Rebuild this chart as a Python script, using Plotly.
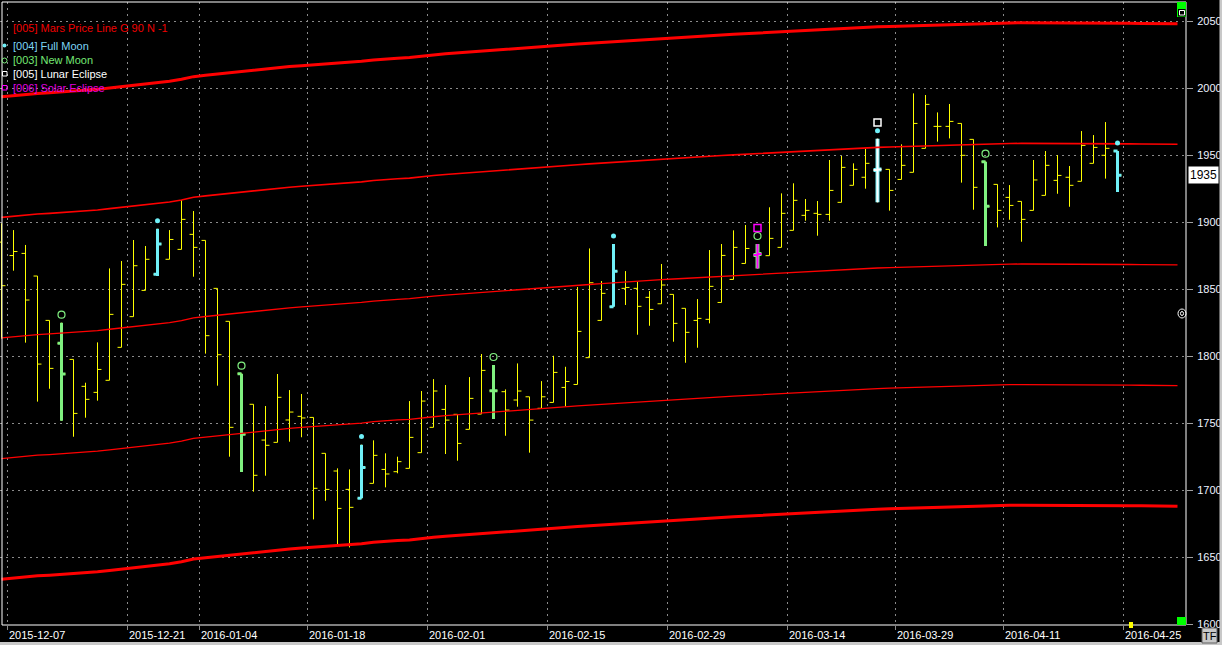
import plotly.graph_objects as go

# ---------------- data ----------------
bar_index = list(range(94))
opens = [1885, 1875, 1876.6, 1859.7, 1826.6, 1809.5, 1797.5, 1777.4, 1772.9, 1781.9,
         1806.5, 1829.4, 1849, 1861, 1872.2, 1879.6, 1890.8, 1886.3, 1850.5, 1825.9,
         1786.8, 1764, 1737.3, 1735.6, 1752.3, 1755, 1754.2, 1727.4, 1714.2, 1700.5,
         1693.8, 1705, 1715.4, 1713.7, 1716.2, 1727.9, 1746.8, 1760.2, 1756.5, 1745.3,
         1756.7, 1774.1, 1773.4, 1767.2, 1769.6, 1761, 1765.4, 1776.6, 1778.8, 1798.8,
         1826.6, 1836.8, 1850.5, 1850.5, 1843.8, 1839, 1846, 1835.6, 1826.6, 1827.4,
         1840, 1857.2, 1869.1, 1875.4, 1874.9, 1881.1, 1893.8, 1905, 1906.5, 1905.7,
         1914.7, 1927.4, 1933.4, 1938.8, 1939.3, 1931.8, 1937.1, 1955, 1971.4, 1971.4,
         1973.6, 1961.7, 1945, 1928.1, 1918.4, 1915.4, 1908.7, 1919.9, 1931.1, 1933.4,
         1930.4, 1943.8, 1949.8, 1953]
highs = [1899, 1894, 1882.9, 1859.7, 1826.6, 1824.9, 1797.5, 1780.1, 1810.2, 1865.4,
         1870.9, 1886.6, 1882.1, 1895, 1894, 1916.4, 1908.2, 1886.3, 1850.5, 1825.9,
         1786.8, 1764, 1762.7, 1786.6, 1774.6, 1771.7, 1754.2, 1727.4, 1716.2, 1715.4,
         1733.9, 1737.1, 1727.4, 1724.9, 1766.4, 1773.9, 1782.8, 1778.4, 1756.5, 1784.3,
         1801.5, 1793.3, 1775.1, 1794.5, 1769.6, 1781.3, 1800.2, 1792, 1851.5, 1880.3,
         1856, 1883.6, 1863.4, 1855.5, 1848.5, 1868.7, 1846, 1835.6, 1842.5, 1879.1,
         1883.6, 1893.8, 1897.8, 1883.6, 1911, 1921.4, 1928.9, 1917.2, 1915.7, 1946.3,
         1949.3, 1943.8, 1954.5, 1962.2, 1939.3, 1958, 1996, 1994.8, 1981.8, 1988.1,
         1973.6, 1961.7, 1945, 1928.1, 1927.6, 1915.4, 1946.3, 1953, 1950, 1941.8,
         1967.9, 1964.9, 1974.6, 1953]
lows = [1813, 1863.7, 1810, 1766, 1775.6, 1751.8, 1739.8, 1754, 1766.7, 1781.9,
        1806.5, 1829.4, 1849, 1859.7, 1872.2, 1879.6, 1859.2, 1801.8, 1777.9, 1724.9,
        1713.5, 1698.8, 1710.7, 1735.6, 1736.1, 1739.4, 1678.1, 1692, 1659, 1657.2,
        1693.8, 1705, 1702, 1712.5, 1716.2, 1727.9, 1746.8, 1726.9, 1721.9, 1745.3,
        1756.7, 1753, 1740.5, 1762.2, 1727.9, 1761, 1765.4, 1762.2, 1778.8, 1798.8,
        1826.6, 1836.8, 1838.1, 1815.9, 1822.6, 1839, 1810.7, 1795, 1806.2, 1824.4,
        1840, 1857.2, 1869.1, 1865.4, 1874.9, 1881.1, 1893.8, 1901, 1889.8, 1901,
        1914.7, 1927.4, 1924.9, 1914.7, 1908.5, 1931.8, 1937.1, 1955, 1960, 1962.4,
        1929.4, 1909.2, 1882.1, 1896, 1901.7, 1885.3, 1908.7, 1919.9, 1921.1, 1911.4,
        1930.4, 1943.8, 1932.4, 1922.4]
closes = [1852.5, 1878, 1841.8, 1794, 1790.8, 1786.6, 1757.2, 1767.7, 1790, 1831.1,
          1853.5, 1867.4, 1872.2, 1883.6, 1887, 1902, 1881.1, 1815.2, 1801, 1746.8,
          1741.6, 1711, 1733.4, 1769.2, 1758.2, 1753.8, 1701.3, 1700.5, 1686.3, 1687.1,
          1716.9, 1725.9, 1712, 1721.2, 1739.3, 1766.4, 1773.9, 1752.2, 1734.8, 1768.4,
          1789.3, 1774.1, 1759.7, 1773.9, 1752.2, 1769.6, 1787.8, 1781, 1818.4, 1854.7,
          1846.8, 1863.2, 1851.2, 1837.1, 1834.8, 1853, 1824.4, 1817.7, 1828.1, 1852,
          1875.1, 1881.1, 1880.3, 1876.1, 1887.8, 1906.5, 1916.2, 1908.7, 1905.7, 1923.6,
          1940.8, 1939.3, 1943.8, 1939.3, 1923.6, 1942.3, 1973.6, 1987.8, 1971.4, 1975.1,
          1949.8, 1925.9, 1911.7, 1908.7, 1912.4, 1902, 1931.4, 1942.3, 1934.8, 1927.4,
          1957.2, 1955.7, 1955, 1935]

# Mars price line (top line), one value per bar slot, incl. empty slots to the right
mars_line = [1993.5, 1994.5, 1995.5, 1996, 1996.5, 1997, 1998, 1998.5, 1999, 2000,
             2001, 2001.5, 2002.5, 2003.5, 2005, 2006.5, 2008.5, 2009.5, 2010.5, 2011.5,
             2012.5, 2013.5, 2014.3, 2015, 2016, 2016.7, 2017.3, 2018, 2018.8, 2019.5,
             2020, 2021, 2021.8, 2022.3, 2022.8, 2024, 2024.7, 2025.5, 2026.2, 2027,
             2027.7, 2028.3, 2029, 2029.6, 2030.2, 2030.8, 2031.5, 2032.2, 2032.8, 2033.4,
             2034, 2034.7, 2035.2, 2035.8, 2036.4, 2037, 2037.5, 2038, 2038.5, 2039,
             2039.6, 2040.1, 2040.6, 2041.2, 2041.7, 2042.2, 2042.6, 2043, 2043.4, 2044,
             2044.5, 2045, 2045.3, 2045.7, 2046, 2046.3, 2046.7, 2047, 2047.2, 2047.5,
             2047.8, 2048, 2048.2, 2048.4, 2048.6, 2048.7, 2048.7, 2048.8, 2048.8, 2048.8,
             2048.7, 2048.6, 2048.5, 2048.4, 2048.3, 2048.2, 2048, 2048, 2048]
mars_gap = 90
mars_levels = [0, 1, 2, 3, 4]

full_moon_bars = [13, 30, 51, 93]
new_moon_bars = [5, 20, 41, 82]
lunar_eclipse_bars = [73]
solar_eclipse_bars = [63]

date_labels = ["2015-12-07", "2015-12-21", "2016-01-04", "2016-01-18", "2016-02-01",
               "2016-02-15", "2016-02-29", "2016-03-14", "2016-03-29", "2016-04-11",
               "2016-04-25"]
date_label_bars = [1, 11, 17, 26, 36, 46, 56, 66, 75, 84, 94]
y_ticks = [1600, 1650, 1700, 1750, 1800, 1850, 1900, 1950, 2000, 2050]
last_price = 1935

legend_items = [
    ("[005] Mars Price Line G 90 N -1", "#F00000"),
    ("[004] Full Moon", "#7CD4F4"),
    ("[003] New Moon", "#74E874"),
    ("[005] Lunar Eclipse", "#FFFFFF"),
    ("[006] Solar Eclipse", "#E000E0"),
]

# ---------------- styles / layout helpers ----------------
W, H = 1222, 645
ML, MR, MT, MB = 0, 36, 2, 20
PW, PH = W - ML - MR, H - MT - MB
YELLOW = "#FFFF00"
CYAN = "#70F0F8"
GREEN = "#80F080"
MAGENTA = "#FF00FF"
GRID = "#8A8A8A"
FONT = "Liberation Sans, Arial, sans-serif"
X0 = -1.5 / 12          # left edge of plot in bar units (12 px per bar)
X1 = X0 + PW / 12


def px(xp):
    return (xp - ML) / PW


def py(yp):
    return (H - MB - yp) / PH


fig = go.Figure()

# Mars price lines
mars_x = list(range(len(mars_line)))
mars_widths = [3, 1.6, 1.3, 1.3, 3]
for k in mars_levels:
    fig.add_trace(go.Scatter(
        x=mars_x, y=[m - k * mars_gap for m in mars_line], mode="lines",
        line=dict(color="#FF0000", width=mars_widths[k]),
        hoverinfo="skip", showlegend=False))


def subset(idx):
    return dict(x=idx,
                open=[opens[i] for i in idx], high=[highs[i] for i in idx],
                low=[lows[i] for i in idx], close=[closes[i] for i in idx])


def ohlc(idx, color, width):
    d = subset(idx)
    return go.Ohlc(**d, increasing=dict(line=dict(color=color, width=width)),
                   decreasing=dict(line=dict(color=color, width=width)),
                   tickwidth=0.33, hoverinfo="skip", showlegend=False)


fig.add_trace(ohlc(bar_index, YELLOW, 1))
fig.add_trace(ohlc(full_moon_bars, CYAN, 3))
fig.add_trace(ohlc(new_moon_bars, GREEN, 3))
fig.add_trace(ohlc(lunar_eclipse_bars, CYAN, 4))
fig.add_trace(ohlc(lunar_eclipse_bars, "#FFFFFF", 2))
fig.add_trace(ohlc(solar_eclipse_bars, GREEN, 4))
fig.add_trace(ohlc(solar_eclipse_bars, MAGENTA, 2))

# moon markers above the bars
off1, off2 = 6, 12
fig.add_trace(go.Scatter(x=full_moon_bars + lunar_eclipse_bars,
                         y=[highs[i] + off1 for i in full_moon_bars + lunar_eclipse_bars],
                         mode="markers", marker=dict(symbol="circle", size=5, color=CYAN),
                         hoverinfo="skip", showlegend=False))
fig.add_trace(go.Scatter(x=new_moon_bars + solar_eclipse_bars,
                         y=[highs[i] + off1 for i in new_moon_bars + solar_eclipse_bars],
                         mode="markers",
                         marker=dict(symbol="circle-open", size=7, color=GREEN, line=dict(width=1.2)),
                         hoverinfo="skip", showlegend=False))
fig.add_trace(go.Scatter(x=lunar_eclipse_bars, y=[highs[i] + off2 for i in lunar_eclipse_bars],
                         mode="markers",
                         marker=dict(symbol="square-open", size=7, color="#FFFFFF", line=dict(width=1.5)),
                         hoverinfo="skip", showlegend=False))
fig.add_trace(go.Scatter(x=solar_eclipse_bars, y=[highs[i] + off2 for i in solar_eclipse_bars],
                         mode="markers",
                         marker=dict(symbol="square-open", size=7, color=MAGENTA, line=dict(width=1.5)),
                         hoverinfo="skip", showlegend=False))

annotations = []
# x labels, left aligned at their grid line
for lab, b in zip(date_labels, date_label_bars):
    annotations.append(dict(x=b - 0.5, xref="x", y=0, yref="paper", text=lab,
                            xanchor="left", yanchor="top", yshift=-2, xshift=-1, showarrow=False,
                            font=dict(family=FONT, size=11, color="#FFFFFF")))
# last price box
annotations.append(dict(x=1, xref="paper", y=last_price, yref="y", text=str(last_price),
                        xanchor="left", yanchor="middle", xshift=2, showarrow=False,
                        bgcolor="#FFFFFF", borderpad=1,
                        font=dict(family=FONT, size=12, color="#000000")))
# legend texts
legend_y = [28, 46, 60, 74, 88]
for (txt, col), yy in zip(legend_items, legend_y):
    annotations.append(dict(x=px(11), xref="paper", y=py(yy), yref="paper", text=txt,
                            xanchor="left", yanchor="middle", showarrow=False,
                            font=dict(family=FONT, size=11, color=col)))
# TF button text
annotations.append(dict(x=px(1210), xref="paper", y=py(636), yref="paper", text="TF",
                        xanchor="center", yanchor="middle", showarrow=False,
                        font=dict(family=FONT, size=11, color="#000000")))

shapes = []


def rect(x0, y0, x1, y1, fill=None, line=None, lw=0, kind="rect"):
    shapes.append(dict(type=kind, xref="paper", yref="paper",
                       x0=px(x0), x1=px(x1), y0=py(y1), y1=py(y0),
                       fillcolor=fill if fill else "rgba(0,0,0,0)",
                       line=dict(color=line if line else "rgba(0,0,0,0)", width=lw),
                       layer="above"))


# frame
rect(2, 2, 1186, 625, line="#FFFFFF", lw=1)
# legend symbols
rect(2.5, 43.5, 6.5, 47.5, fill=CYAN, kind="circle")
rect(2, 58, 7, 63, line=GREEN, lw=1, kind="circle")
rect(2.5, 71.5, 7, 76, line="#FFFFFF", lw=1)
rect(2.5, 85.5, 7, 90, line=MAGENTA, lw=1)
# top right green box with icon
rect(1177, 2, 1186, 17, fill="#00FF00")
rect(1178, 9, 1185.5, 16.5, fill="#000000")
rect(1179.5, 10.5, 1184.5, 15, line="#FFFFFF", lw=1)
# bottom right green box and yellow marker
rect(1177, 617, 1186, 625, fill="#00FF00")
rect(1129, 622, 1133, 628, fill=YELLOW)
# small circle icon at axis
rect(1178, 309, 1186, 318, line="#FFFFFF", lw=1, kind="circle")
rect(1180.5, 311.5, 1183.5, 315.5, line="#FFFFFF", lw=1, kind="circle")
# window edges
rect(1219.5, 0, 1222, 645, fill="#C8C8C8")
rect(0, 642, 1222, 645, fill="#C8C8C8")
# TF button
rect(1202, 628, 1217, 643, fill="#C8C8C8", line="#606060", lw=1)

fig.update_layout(
    width=W, height=H,
    margin=dict(l=ML, r=MR, t=MT, b=MB, pad=0, autoexpand=False),
    paper_bgcolor="#000000", plot_bgcolor="#000000",
    showlegend=False,
    font=dict(family=FONT, color="#FFFFFF"),
    annotations=annotations, shapes=shapes,
    xaxis=dict(range=[X0, X1], tickvals=[b - 0.5 for b in date_label_bars],
               showticklabels=False, showgrid=True, gridcolor=GRID, griddash="2px,4px",
               gridwidth=1, ticks="outside", ticklen=4, tickcolor=GRID,
               zeroline=False, showline=False, rangeslider=dict(visible=False),
               fixedrange=True, automargin=False),
    yaxis=dict(range=[1599.3, 2064.2], side="right", tickvals=y_ticks,
               ticktext=[str(v) for v in y_ticks],
               showgrid=True, gridcolor=GRID, griddash="2px,4px", gridwidth=1,
               ticks="outside", ticklen=6, tickcolor="#A0A0A0", ticklabelstandoff=2,
               tickfont=dict(family=FONT, size=11, color="#EEF2FF"),
               zeroline=False, showline=False, fixedrange=True, automargin=False),
)

fig.write_html(
    "out.html",
    config={"displayModeBar": False},
    post_script="document.body.style.margin='0';document.body.style.padding='0';"
                "document.body.style.background='#000';document.body.style.overflow='hidden';",
)
